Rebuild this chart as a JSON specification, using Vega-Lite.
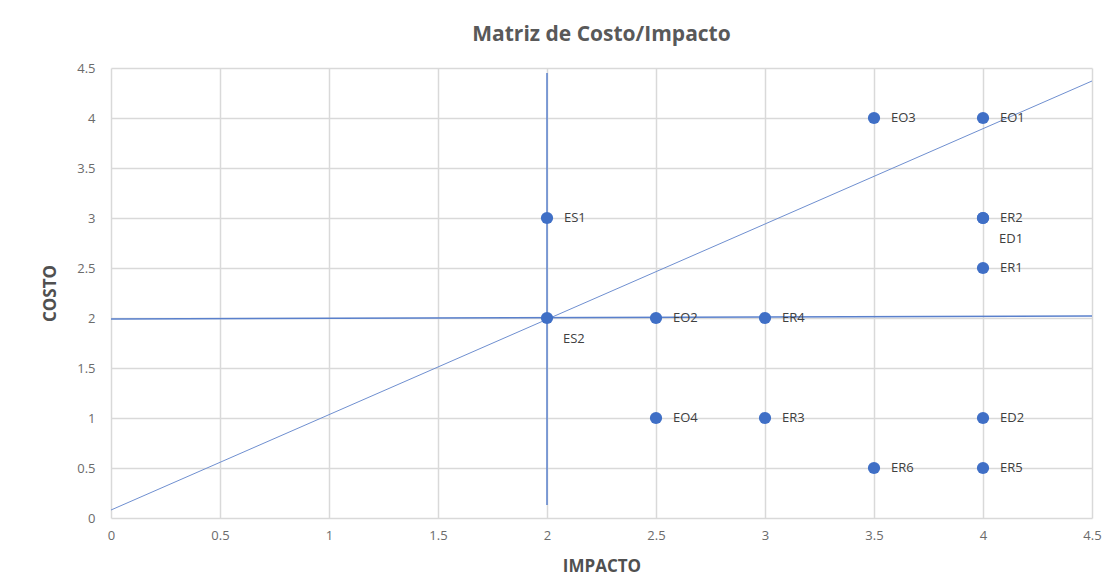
{
  "$schema": "https://vega.github.io/schema/vega-lite/v6.json",
  "autosize": {"type": "none"},
  "width": 981,
  "height": 450,
  "padding": {"left": 111, "top": 68, "right": 14, "bottom": 68},
  "background": "white",
  "config": {
    "view": {"stroke": null},
    "font": "Open Sans",
    "axis": {
      "labelFont": "Open Sans",
      "labelFontSize": 13,
      "labelColor": "#6b6b6b",
      "labelFlush": false,
      "format": "~g",
      "titleFont": "Open Sans",
      "titleFontSize": 17,
      "titleFontWeight": "bold",
      "titleColor": "#505050",
      "gridColor": "#d9d9d9",
      "gridWidth": 1.5,
      "domain": false,
      "ticks": false
    }
  },
  "title": {
    "text": "Matriz de Costo/Impacto",
    "fontSize": 21,
    "fontWeight": "bold",
    "color": "#595959",
    "font": "Open Sans",
    "offset": 17
  },
  "datasets": {
    "points": [
      {"name": "ES1", "impacto": 2, "costo": 3},
      {"name": "ES2", "impacto": 2, "costo": 2},
      {"name": "EO2", "impacto": 2.5, "costo": 2},
      {"name": "ER4", "impacto": 3, "costo": 2},
      {"name": "EO4", "impacto": 2.5, "costo": 1},
      {"name": "ER3", "impacto": 3, "costo": 1},
      {"name": "ER6", "impacto": 3.5, "costo": 0.5},
      {"name": "ER5", "impacto": 4, "costo": 0.5},
      {"name": "ED2", "impacto": 4, "costo": 1},
      {"name": "ER1", "impacto": 4, "costo": 2.5},
      {"name": "ER2", "impacto": 4, "costo": 3},
      {"name": "ED1", "impacto": 4, "costo": 3},
      {"name": "EO3", "impacto": 3.5, "costo": 4},
      {"name": "EO1", "impacto": 4, "costo": 4}
    ],
    "guides": [
      {"seg": "diagonal", "impacto": 0, "costo": 0.08},
      {"seg": "diagonal", "impacto": 4.5, "costo": 4.37},
      {"seg": "vertical", "impacto": 2, "costo": 0.13},
      {"seg": "vertical", "impacto": 2, "costo": 4.45},
      {"seg": "horizontal", "impacto": 0, "costo": 1.99},
      {"seg": "horizontal", "impacto": 4.5, "costo": 2.02}
    ]
  },
  "encoding": {
    "x": {
      "field": "impacto",
      "type": "quantitative",
      "scale": {"domain": [0, 4.5], "nice": false},
      "axis": {"title": "IMPACTO", "values": [0, 0.5, 1, 1.5, 2, 2.5, 3, 3.5, 4, 4.5], "labelPadding": 11, "titlePadding": 16}
    },
    "y": {
      "field": "costo",
      "type": "quantitative",
      "scale": {"domain": [0, 4.5], "nice": false},
      "axis": {"title": "COSTO", "values": [0, 0.5, 1, 1.5, 2, 2.5, 3, 3.5, 4, 4.5], "labelPadding": 16, "titlePadding": 17}
    }
  },
  "layer": [
    {
      "data": {"name": "guides"},
      "transform": [{"filter": "datum.seg === 'diagonal'"}],
      "mark": {"type": "line", "color": "#6f8fd0", "strokeWidth": 1},
      "encoding": {"detail": {"field": "seg"}}
    },
    {
      "data": {"name": "guides"},
      "transform": [{"filter": "datum.seg !== 'diagonal'"}],
      "mark": {"type": "line", "color": "#5a80cc", "strokeWidth": 1.5},
      "encoding": {"detail": {"field": "seg"}}
    },
    {
      "data": {"name": "points"},
      "mark": {"type": "circle", "color": "#3f6fc6", "opacity": 1, "size": 150}
    },
    {
      "data": {"name": "points"},
      "transform": [{"filter": "datum.name !== 'ES2' && datum.name !== 'ED1'"}],
      "mark": {"type": "text", "align": "left", "baseline": "middle", "dx": 17, "fontSize": 13, "color": "#404040", "font": "Open Sans"},
      "encoding": {"text": {"field": "name"}}
    },
    {
      "data": {"name": "points"},
      "transform": [{"filter": "datum.name === 'ES2' || datum.name === 'ED1'"}],
      "mark": {"type": "text", "align": "left", "baseline": "middle", "dx": 16, "dy": 21, "fontSize": 13, "color": "#404040", "font": "Open Sans"},
      "encoding": {"text": {"field": "name"}}
    }
  ]
}
